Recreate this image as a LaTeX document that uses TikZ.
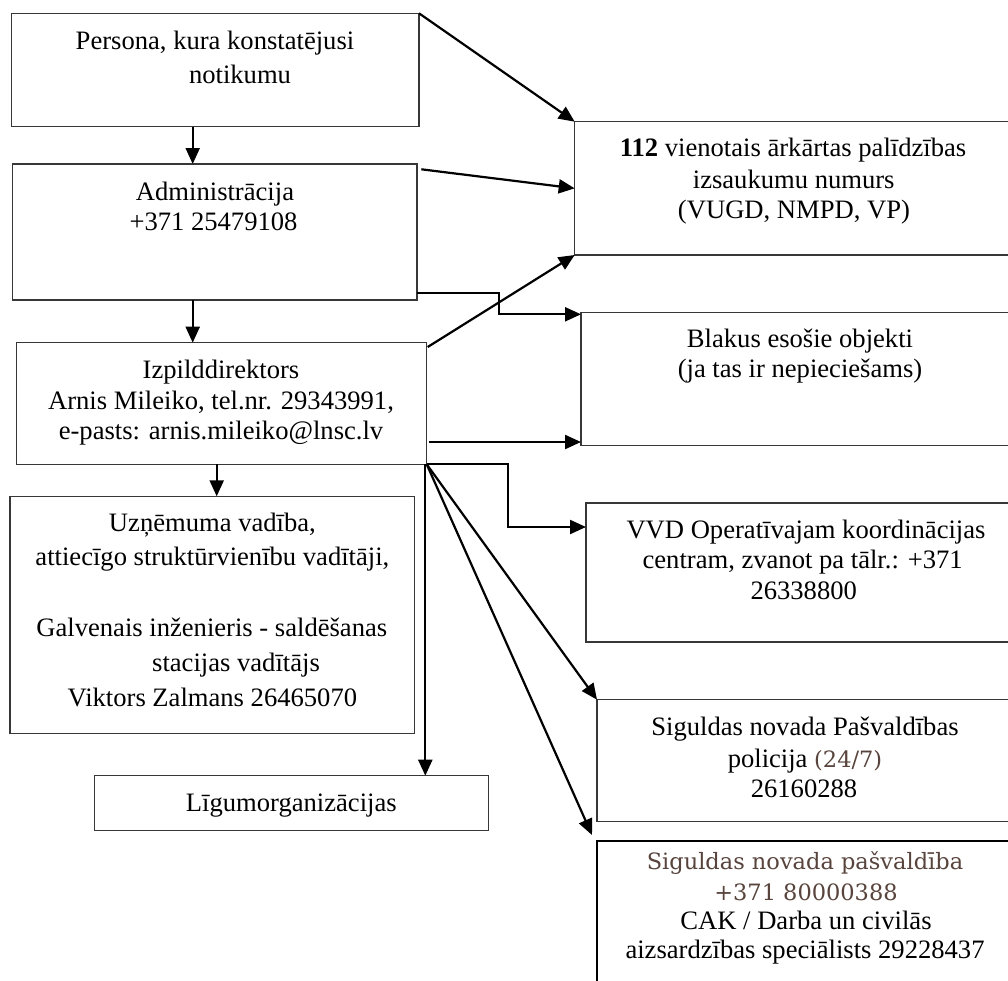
\documentclass[tikz,border=0pt]{standalone}
\usepackage{fontspec}
\setmainfont{Liberation Serif}
\newfontfamily\camb{DejaVu Serif}
\usetikzlibrary{arrows.meta,calc}
\definecolor{boxgray}{RGB}{55,55,55}
\definecolor{sbrown}{RGB}{88,68,60}
\newcommand{\brn}[1]{{\camb\fontsize{22.5}{28}\selectfont\color{sbrown}#1}}
\begin{document}
\begin{tikzpicture}[x=1pt,y=-1pt,
  box/.style={draw=boxgray, line width=1.3pt, inner sep=0pt, outer sep=0pt, anchor=north west},
  tx/.style={anchor=base, inner sep=0pt, font=\fontsize{26.6}{30}\selectfont},
  arr/.style={draw=black, -{Triangle[length=16pt,width=14pt]}, line width=2.2pt}
]
\clip (0,0) rectangle (1008,980);
\fill[white] (0,0) rectangle (1008,980);

% boxes
\node[box, minimum width=407.3pt, minimum height=113.4pt] (persona) at (11.7,13.3) {};
\node[box, minimum width=404.3pt, minimum height=136pt] (admin) at (12.7,164) {};
\node[box, minimum width=438.3pt, minimum height=133.3pt] (e112) at (574.7,121.7) {};
\node[box, minimum width=439pt, minimum height=133pt] (blakus) at (581,312.3) {};
\node[box, minimum width=410pt, minimum height=121.6pt] (izp) at (16.7,342.7) {};
\node[box, minimum width=404.3pt, minimum height=237.4pt] (uzn) at (10,496.3) {};
\node[box, minimum width=394.1pt, minimum height=54.6pt] (ligum) at (94.3,775.7) {};
\node[box, minimum width=436pt, minimum height=139pt] (vvd) at (586,503) {};
\node[box, minimum width=416pt, minimum height=122pt] (polic) at (597,699.7) {};
\node[box, draw=black, line width=2.2pt, minimum width=420pt, minimum height=160pt] (sig) at (597,841) {};

% texts
\node[tx] (personaT1) at (215,49.5) {Persona, kura konstatējusi};
\node[tx] (personaT2) at (240,83.5) {notikumu};
\node[tx] (adminT1) at (215,200) {Administrācija};
\node[tx] (adminT2) at (213.5,230) {+371 25479108};
\node[tx] (e112T1) at (793,156.7) {\textbf{112} vienotais ārkārtas palīdzības};
\node[tx] (e112T2) at (793.7,188) {izsaukumu numurs};
\node[tx] (e112T3) at (794,218) {(VUGD, NMPD, VP)};
\node[tx] (blakusT1) at (800,347.5) {Blakus esošie objekti};
\node[tx] (blakusT2) at (800,377.5) {(ja tas ir nepieciešams)};
\node[tx] (izpT1) at (221,378.3) {Izpilddirektors};
\node[tx] (izpT2) at (221,409.3) {Arnis Mileiko, tel.nr. 29343991,};
\node[tx] (izpT3) at (221,439.3) {e-pasts: arnis.mileiko@lnsc.lv};
\node[tx] (uznT1) at (212.4,531.7) {Uzņēmuma vadība,};
\node[tx] (uznT2) at (212.4,565) {attiecīgo struktūrvienību vadītāji,};
\node[tx] (uznT3) at (211.8,636.7) {Galvenais inženieris - saldēšanas};
\node[tx] (uznT4) at (236,671.7) {stacijas vadītājs};
\node[tx] (uznT5) at (212.4,706.7) {Viktors Zalmans 26465070};
\node[tx] (ligumT) at (291.3,811.3) {Līgumorganizācijas};
\node[tx] (vvdT1) at (806,538.5) {VVD Operatīvajam koordinācijas};
\node[tx] (vvdT2) at (802.6,568.7) {centram, zvanot pa tālr.: +371};
\node[tx] (vvdT3) at (803.7,599) {26338800};
\node[tx] (policT1) at (805,735) {Siguldas novada Pašvaldības};
\node[tx] (policT2) at (805,767) {policija \brn{(24/7)}};
\node[tx] (policT3) at (804,797) {26160288};
\node[tx] (sigT1) at (805,869.3) {\brn{Siguldas novada pašvaldība}};
\node[tx] (sigT2) at (806,900) {\brn{+371 80000388}};
\node[tx] (sigT3) at (806,929.3) {CAK / Darba un civilās};
\node[tx] (sigT4) at (805,958.3) {aizsardzības speciālists 29228437};

% connectors
\draw[arr] (persona.north east) -- (e112.north west);
\draw[arr] ($(admin.north east)+(4.3,5.3)$) -- (e112.west);
\draw[arr] ($(admin.south east)+(0,-6.7)$) -- ++(82.3,0) |- ($(blakus.north west)+(0,2)$);
\draw[arr] ($(persona.south west)+(181,0)$) coordinate (p1) -- (p1 |- admin.north);
\draw[arr] ($(admin.south west)+(180,0)$) coordinate (p2) -- (p2 |- izp.north);
\draw[arr] ($(izp.north east)+(1,4.3)$) -- (e112.south west);
\draw[arr] ($(izp.north east)+(2,99.3)$) -- ($(blakus.south west)+(0,-3.3)$);
\draw[arr] ($(izp.south west)+(200,0)$) coordinate (p3) -- (p3 |- uzn.north);
\draw[arr] (izp.south east) -- ++(81,0) |- ($(vvd.north west)+(0,24)$);
\draw[arr] ($(izp.south east)+(-1.4,0)$) coordinate (p4) -- (p4 |- ligum.north);
\draw[arr] (izp.south east) -- (polic.north west);
\draw[arr] (izp.south east) -- ($(sig.north west)+(-5,-6)$);
\end{tikzpicture}
\end{document}
